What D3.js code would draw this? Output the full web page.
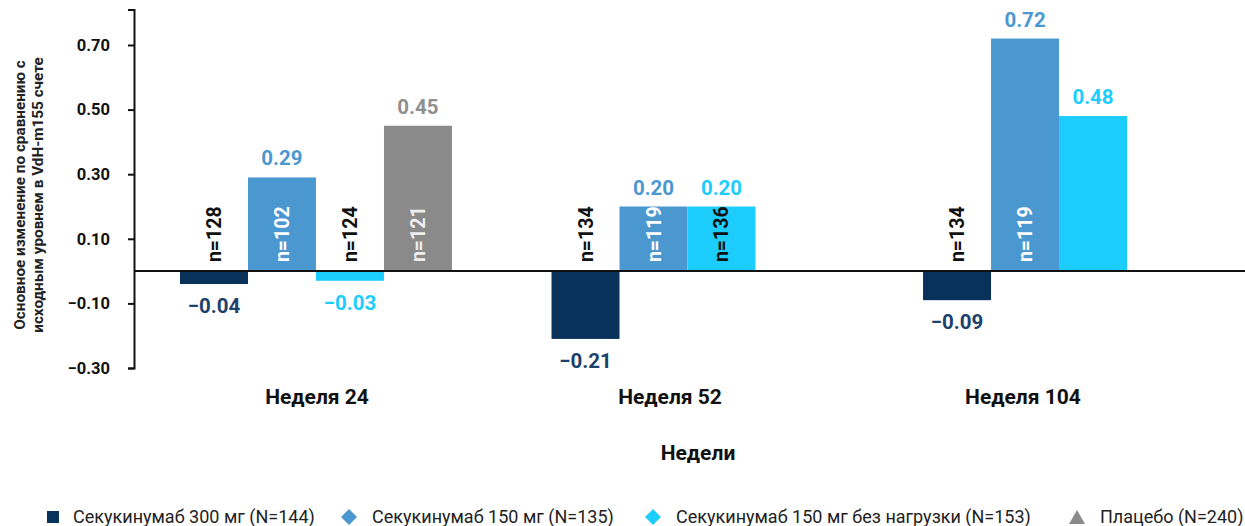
<!DOCTYPE html>
<html>
<head>
<meta charset="utf-8">
<script src="https://cdn.jsdelivr.net/npm/d3@7"></script>
<style>
  body { margin: 0; background: #fff; font-family: Roboto, "Noto Sans", sans-serif; }
  svg text { font-family: Roboto, "Noto Sans", sans-serif; }
</style>
</head>
<body>
<svg id="chart"></svg>
<script>
// Data
const weeks = ["Неделя 24", "Неделя 52", "Неделя 104"]
const seriesNames = [
    "Секукинумаб 300 мг (N=144)",
    "Секукинумаб 150 мг (N=135)",
    "Секукинумаб 150 мг без нагрузки (N=153)",
    "Плацебо (N=240)"
]
const dose300 = [-0.04, -0.21, -0.09]
const dose150 = [0.29, 0.20, 0.72]
const dose150NoLoad = [-0.03, 0.20, 0.48]
const placebo = [0.45, null, null]

const n300 = [128, 134, 134]
const n150 = [102, 119, 119]
const n150NoLoad = [124, 136, null]
const nPlacebo = [121, null, null]

const yTicks = [-0.30, -0.10, 0.10, 0.30, 0.50, 0.70]

const seriesValues = [dose300, dose150, dose150NoLoad, placebo]
const seriesN = [n300, n150, n150NoLoad, nPlacebo]
const colors = ["#08325a", "#4b98d1", "#1ccdfd", "#8a8a8a"]
const labelColors = ["#1d416b", "#4b98d1", "#1ccdfd", "#8f8f8f"]
const nColors = ["#111", "#fff", "#111", "#eee"]
const legendShapes = ["square", "diamond", "diamond", "triangle"]

const w = 1245
const h = 526

const svg = d3.select("#chart")
    .attr("width", w)
    .attr("height", h)

// Scales
const y = d3.scaleLinear()
    .domain([-0.3, 0.81])
    .range([368, 368 - 1.11 * 323])

const x0 = d3.scaleBand()
    .domain(weeks)
    .range([180, 1195])
    .paddingInner(0.268)

const x1 = d3.scaleBand()
    .domain(d3.range(seriesNames.length))
    .range([0, x0.bandwidth()])

const xLabel = d3.scalePoint()
    .domain(weeks)
    .range([317, 1023])

// flatten into bar records
const bars = []
weeks.forEach((wk, i) => {
    seriesValues.forEach((vals, s) => {
        if (vals[i] !== null) {
            bars.push({week: wk, s: s, value: vals[i], n: seriesN[s][i]})
        }
    })
})

// Bars
svg.selectAll("rect.bar")
    .data(bars)
    .enter()
    .append("rect")
    .attr("class", "bar")
    .attr("x", d => x0(d.week) + x1(d.s))
    .attr("width", x1.bandwidth())
    .attr("y", d => y(Math.max(0, d.value)))
    .attr("height", d => Math.abs(y(d.value) - y(0)))
    .attr("fill", d => colors[d.s])

// Value labels
svg.selectAll("text.val")
    .data(bars)
    .enter()
    .append("text")
    .attr("class", "val")
    .attr("x", d => x0(d.week) + x1(d.s) + x1.bandwidth() / 2)
    .attr("y", d => d.value >= 0 ? y(d.value) - 12 : y(d.value) + 29)
    .attr("text-anchor", "middle")
    .attr("font-size", 20.5)
    .attr("font-weight", "bold")
    .attr("fill", d => labelColors[d.s])
    .text(d => d3.format(".2f")(d.value))

// n labels
svg.selectAll("text.nlab")
    .data(bars.filter(d => d.n !== null))
    .enter()
    .append("text")
    .attr("class", "nlab")
    .attr("transform", d => {
        const cx = x0(d.week) + x1(d.s) + x1.bandwidth() / 2 + 7
        return `translate(${cx}, ${y(0) - 9}) rotate(-90)`
    })
    .attr("font-size", 19.5)
    .attr("font-weight", "bold")
    .attr("fill", d => d.value >= 0 ? nColors[d.s] : "#111")
    .text(d => "n=" + d.n)

// Zero line
svg.append("line")
    .attr("x1", 134)
    .attr("x2", w)
    .attr("y1", y(0))
    .attr("y2", y(0))
    .attr("stroke", "#111")
    .attr("stroke-width", 2)

// Y axis
const axisLeft = d3.axisLeft(y)
    .tickValues(yTicks)
    .tickFormat(d3.format(".2f"))
    .tickSize(6)
    .tickPadding(18)

const gy = svg.append("g")
    .attr("transform", "translate(134, 0)")
    .call(axisLeft)
gy.select(".domain").attr("stroke", "#111").attr("stroke-width", 2)
gy.selectAll(".tick line").attr("stroke", "#111").attr("stroke-width", 2)
gy.selectAll(".tick text")
    .attr("font-size", 16.5)
    .attr("font-weight", "bold")
    .attr("fill", "#111")
    .style("font-family", "Roboto, sans-serif")

// Y title
const yTitle = svg.append("text")
    .attr("transform", "translate(25, 195) rotate(-90)")
    .attr("text-anchor", "middle")
    .attr("font-size", 15.3)
    .attr("font-weight", "bold")
    .attr("fill", "#222")
yTitle.append("tspan").attr("x", 0).attr("dy", 0).text("Основное изменение по сравнению с")
yTitle.append("tspan").attr("x", 0).attr("dy", 18).text("исходным уровнем в VdH-m155 счете")

// X labels
svg.selectAll("text.week")
    .data(weeks)
    .enter()
    .append("text")
    .attr("class", "week")
    .attr("x", d => xLabel(d))
    .attr("y", 404)
    .attr("text-anchor", "middle")
    .attr("font-size", 21)
    .attr("font-weight", "bold")
    .attr("fill", "#111")
    .text(d => d)

svg.append("text")
    .attr("x", 698)
    .attr("y", 460)
    .attr("text-anchor", "middle")
    .attr("font-size", 21)
    .attr("font-weight", "bold")
    .attr("fill", "#111")
    .text("Недели")

// Legend
const legendX = [47, 342, 646, 1070]
const legend = svg.selectAll("g.legend")
    .data(seriesNames)
    .enter()
    .append("g")
    .attr("class", "legend")
    .attr("transform", (d, i) => `translate(${legendX[i]}, 517)`)

legend.each(function(d, i) {
    const g = d3.select(this)
    const shape = legendShapes[i]
    if (shape === "square") {
        g.append("rect").attr("x", 0).attr("y", -6).attr("width", 12).attr("height", 12).attr("fill", colors[i])
    } else if (shape === "diamond") {
        g.append("path").attr("d", "M7,-8 L15,0 L7,8 L-1,0 Z").attr("fill", colors[i])
    } else {
        g.append("path").attr("d", "M7,-7 L15,7 L-1,7 Z").attr("fill", colors[i])
    }
    g.append("text")
        .attr("x", shape === "square" ? 26 : 30)
        .attr("y", 6)
        .attr("font-size", 18)
        .attr("fill", "#222")
        .text(d)
})
</script>
</body>
</html>
